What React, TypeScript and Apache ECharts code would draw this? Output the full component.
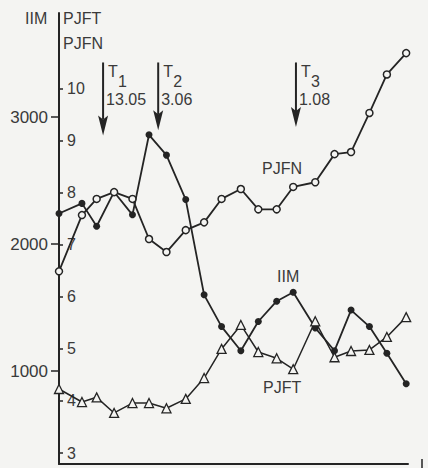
import React, { useEffect, useRef } from "react";
import * as echarts from "echarts";

// sampling positions (week index along the time axis)
const xs = [0, 1.25, 2.05, 3, 4, 4.9, 5.85, 6.9, 7.9, 8.85, 9.9, 10.85, 11.85, 12.75, 13.95, 15, 15.9, 16.9, 17.85, 18.9];
// IIM (left scale)
const iim = [2240, 2320, 2140, 2410, 2230, 2860, 2700, 2350, 1600, 1350, 1160, 1390, 1550, 1620, 1340, 1160, 1480, 1350, 1140, 900];
// PJFN and PJFT (inner scale)
const pjfn = [6.49, 7.57, 7.88, 8.01, 7.88, 7.11, 6.86, 7.28, 7.43, 7.88, 8.07, 7.68, 7.68, 8.11, 8.2, 8.74, 8.78, 9.53, 10.27, 10.68];
const pjft = [4.23, 3.98, 4.07, 3.77, 3.96, 3.96, 3.86, 4.04, 4.44, 5.0, 5.46, 4.94, 4.82, 4.61, 5.53, 4.84, 4.96, 4.98, 5.23, 5.61];

// tick labels
const iimTicks = [1000, 2000, 3000];
const pjfTicks = [3, 4, 5, 6, 7, 8, 9, 10];

// events (arrows)
const eventX = [2.4, 5.4, 12.9];
const eventSub = ["1", "2", "3"];
const eventDate = ["13.05", "3.06", "1.08"];
const eventTop = [10.5, 10.5, 10.5];
const eventTip = [9.1, 9.2, 9.26];

const BG = "#f4f4f2";
const INK = "#242424";
const TXT = "#3a3a3a";
const FONT = "'Liberation Sans', Arial, Helvetica, sans-serif";

export default function App() {
  const ref = useRef<HTMLDivElement>(null);
  useEffect(() => {
    if (!ref.current) return;
    const chart = echarts.init(ref.current, null, { renderer: "svg" });
    const pair = (vals: number[]) => vals.map((v, i) => [xs[i], v]);
    const option: any = {
      animation: false,
      backgroundColor: BG,
      grid: { left: 59, right: 20, top: 13, bottom: 4 },
      xAxis: {
        type: "value",
        min: 0,
        max: 19,
        axisLine: { show: true, onZero: false, lineStyle: { color: INK, width: 2 } },
        axisTick: { show: false },
        axisLabel: { show: false },
        splitLine: { show: false },
      },
      yAxis: [
        {
          type: "value",
          position: "left",
          min: 268,
          max: 3819,
          axisLine: { show: true, lineStyle: { color: INK, width: 2 } },
          axisTick: { show: true, length: 8, lineStyle: { color: INK, width: 1.5 }, customValues: iimTicks },
          axisLabel: {
            show: true,
            margin: 11,
            color: TXT,
            fontSize: 17,
            fontFamily: FONT,
            customValues: iimTicks,
            formatter: (v: number) => String(v),
          },
          splitLine: { show: false },
        },
        {
          type: "value",
          position: "left",
          offset: 0,
          min: 2.79,
          max: 11.45,
          axisLine: { show: false },
          axisTick: { show: true, inside: true, length: 4, lineStyle: { color: INK, width: 1.5 }, customValues: pjfTicks },
          axisLabel: {
            show: true,
            inside: true,
            margin: 8,
            color: TXT,
            fontSize: 16,
            fontFamily: FONT,
            customValues: pjfTicks,
            formatter: (v: number) => String(v),
          },
          splitLine: { show: false },
        },
      ],
      series: [
        {
          name: "IIM",
          type: "line",
          yAxisIndex: 0,
          data: pair(iim),
          symbol: "circle",
          symbolSize: 7,
          lineStyle: { color: INK, width: 1.8 },
          itemStyle: { color: INK },
          z: 3,
        },
        {
          name: "PJFN",
          type: "line",
          yAxisIndex: 1,
          data: pair(pjfn),
          symbol: "circle",
          symbolSize: 7,
          lineStyle: { color: INK, width: 1.8 },
          itemStyle: { color: BG, borderColor: INK, borderWidth: 1.5 },
          z: 4,
        },
        {
          name: "PJFT",
          type: "line",
          yAxisIndex: 1,
          data: pair(pjft),
          symbol: "triangle",
          symbolSize: 9,
          lineStyle: { color: INK, width: 1.5 },
          itemStyle: { color: BG, borderColor: INK, borderWidth: 1.3 },
          z: 4,
        },
        {
          name: "events",
          type: "custom",
          yAxisIndex: 1,
          data: eventX.map((x, i) => [x, eventTop[i], eventTip[i]]),
          renderItem: (params: any, api: any) => {
            const i = params.dataIndex;
            const top = api.coord([api.value(0), api.value(1)]);
            const tip = api.coord([api.value(0), api.value(2)]);
            const x = top[0];
            return {
              type: "group",
              children: [
                {
                  type: "line",
                  shape: { x1: x, y1: top[1], x2: x, y2: tip[1] - 16 },
                  style: { stroke: INK, lineWidth: 2 },
                },
                {
                  type: "polygon",
                  shape: { points: [[x - 5, tip[1] - 20], [x, tip[1] - 16], [x + 5, tip[1] - 20], [x, tip[1]]] },
                  style: { fill: INK },
                },
                {
                  type: "text",
                  style: { text: "T", x: x + 5, y: top[1] + 9, verticalAlign: "middle", fill: TXT, fontSize: 16, fontFamily: FONT },
                },
                {
                  type: "text",
                  style: { text: eventSub[i], x: x + 15, y: top[1] + 19, verticalAlign: "middle", fill: TXT, fontSize: 16, fontFamily: FONT },
                },
                {
                  type: "text",
                  style: { text: eventDate[i], x: x + 3, y: top[1] + 37, verticalAlign: "middle", fill: TXT, fontSize: 16, fontFamily: FONT },
                },
              ],
            };
          },
          z: 5,
        },
      ],
      graphic: [
        { type: "text", x: 25, y: 18, style: { text: "IIM", fill: TXT, fontSize: 16, fontFamily: FONT, verticalAlign: "middle" } },
        { type: "text", x: 63, y: 18, style: { text: "PJFT", fill: TXT, fontSize: 16, fontFamily: FONT, verticalAlign: "middle" } },
        { type: "text", x: 63, y: 43, style: { text: "PJFN", fill: TXT, fontSize: 16, fontFamily: FONT, verticalAlign: "middle" } },
        { type: "text", x: 262, y: 168, style: { text: "PJFN", fill: TXT, fontSize: 16, fontFamily: FONT, verticalAlign: "middle" } },
        { type: "text", x: 277, y: 276, style: { text: "IIM", fill: TXT, fontSize: 16, fontFamily: FONT, verticalAlign: "middle" } },
        { type: "text", x: 263, y: 387, style: { text: "PJFT", fill: TXT, fontSize: 16, fontFamily: FONT, verticalAlign: "middle" } },
        { type: "line", shape: { x1: 422, y1: 459, x2: 422, y2: 468 }, style: { stroke: INK, lineWidth: 1.5 } },
      ],
    };
    chart.setOption(option);
    return () => chart.dispose();
  }, []);
  return (
    <div
      ref={ref}
      style={{ position: "fixed", left: 0, top: 0, width: 428, height: 468, background: BG }}
    />
  );
}
